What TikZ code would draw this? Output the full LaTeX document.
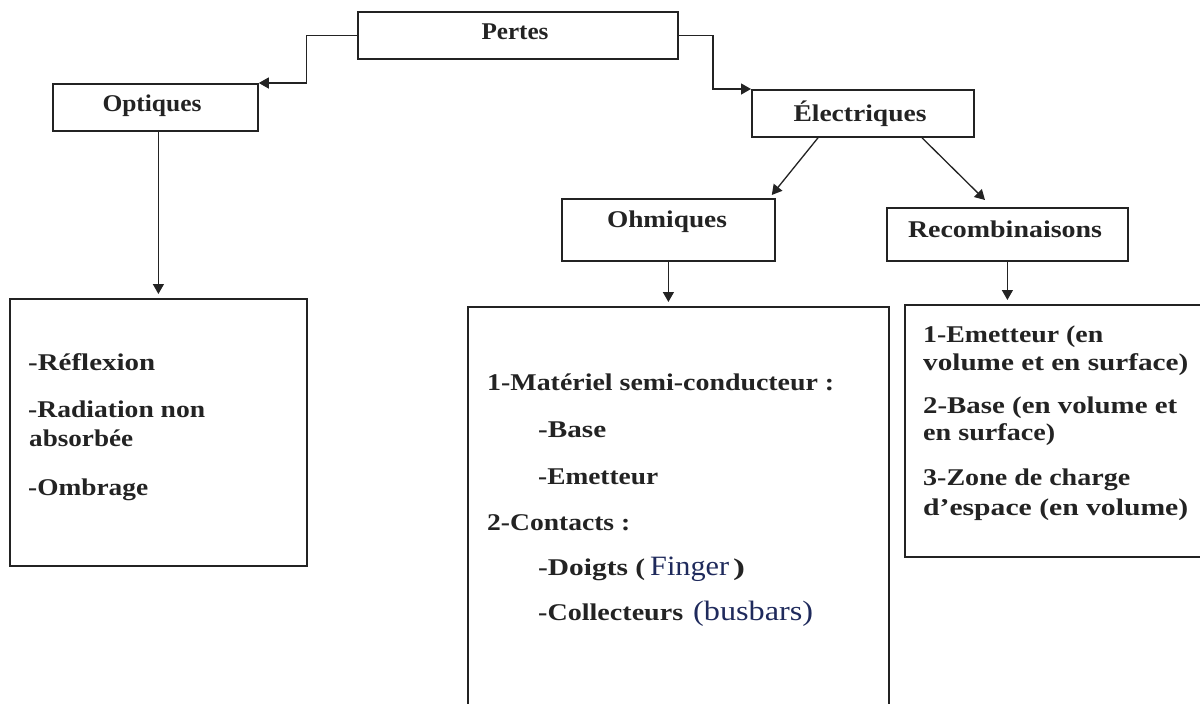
\documentclass[tikz,border=0pt]{standalone}
\usepackage{fontspec}
\setmainfont{Liberation Serif}
\usetikzlibrary{arrows.meta,calc}
\definecolor{ink}{RGB}{35,35,35}
\definecolor{navy}{RGB}{31,42,92}
\newcommand\W[2]{\resizebox{#1pt}{\height}{#2}}
\begin{document}
\begin{tikzpicture}[x=1pt,y=-1pt,
  box/.style={draw=ink, line width=1.8pt, inner sep=0pt, anchor=north west},
  ttl/.style={anchor=base, inner sep=0pt, text=ink, font=\fontsize{24}{28}\selectfont\bfseries},
  txt/.style={anchor=base west, inner sep=0pt, text=ink, font=\fontsize{24}{28}\selectfont\bfseries},
  blue/.style={anchor=base west, inner sep=0pt, text=navy, font=\fontsize{28}{30}\selectfont},
  conn/.style={draw=ink, line width=1.3pt, -{Triangle[length=10pt,width=11pt]}},
]
\useasboundingbox[fill=white] (0,0) rectangle (1200,704);

% boxes
\node[box, minimum width=320pt, minimum height=47pt] (pertes) at (357,11) {};
\node[box, minimum width=205pt, minimum height=47pt] (optiques) at (52,83) {};
\node[box, minimum width=222pt, minimum height=47pt] (elec) at (751,89) {};
\node[box, minimum width=213pt, minimum height=62pt] (ohm) at (561,198) {};
\node[box, minimum width=241pt, minimum height=53pt] (recomb) at (886,207) {};
\node[box, minimum width=297pt, minimum height=267pt] (optbody) at (9,298) {};
\node[box, minimum width=421pt, minimum height=420pt] (ohmbody) at (467,306) {};
\node[box, minimum width=320pt, minimum height=252pt] (recbody) at (904,304) {};

% titles
\node[ttl] (tpertes) at (515,39) {\W{67}{Pertes}};
\node[ttl] (topt) at (152,111) {\W{99}{Optiques}};
\node[ttl] (telec) at (860,121) {\W{133}{Électriques}};
\node[ttl] (tohm) at (667,227) {\W{120}{Ohmiques}};
\node[ttl] (trec) at (1005,237) {\W{194}{Recombinaisons}};

% optiques body
\node[txt] (o1) at (28,370) {\W{127}{-Réflexion}};
\node[txt] (o2) at (28,417) {\W{177}{-Radiation non}};
\node[txt] (o3) at (29,446) {\W{104}{absorbée}};
\node[txt] (o4) at (28,495) {\W{120}{-Ombrage}};

% ohmiques body
\node[txt] (h1) at (487,390) {\W{347}{1-Matériel semi-conducteur :}};
\node[txt] (h2) at (538,437) {\W{68}{-Base}};
\node[txt] (h3) at (538,484) {\W{120}{-Emetteur}};
\node[txt] (h4) at (487,530) {\W{143}{2-Contacts :}};
\node[txt] (h5) at (538,575) {\W{107}{-Doigts (}};
\node[blue] (h5b) at (650,575) {\W{79}{Finger}};
\node[txt] (h5c) at (733,575) {\W{12}{)}};
\node[txt] (h6) at (538,620) {\W{145}{-Collecteurs}};
\node[blue] (h6b) at (693,620) {\W{120}{(busbars)}};

% recombinaisons body
\node[txt] (r1) at (923,342) {\W{180}{1-Emetteur (en}};
\node[txt] (r2) at (923,370) {\W{265}{volume et en surface)}};
\node[txt] (r3) at (923,413) {\W{254}{2-Base (en volume et}};
\node[txt] (r4) at (923,440) {\W{132}{en surface)}};
\node[txt] (r5) at (923,485) {\W{207}{3-Zone de charge}};
\node[txt] (r6) at (923,515) {\W{265}{d’espace (en volume)}};

% connectors
\draw[conn] (pertes.west) -| ($(optiques.north east)+(48,0)$) -- (optiques.north east);
\draw[conn] (pertes.east) -| ($(elec.north west)+(-38,0)$) -- (elec.north west);
\draw[conn] ($(elec.south west)+(67,0)$) -- ($(ohm.north east)+(-4,-3)$);
\draw[conn] ($(elec.south west)+(171,0)$) -- ($(recomb.north west)+(99,-7)$);
\draw[conn, shorten >=4pt] (optbody.north |- optiques.south) -- (optbody.north);
\draw[conn, shorten >=4pt] (ohm.south) -- (ohm.south |- ohmbody.north);
\draw[conn, shorten >=4pt] (recomb.south) -- (recomb.south |- recbody.north);
\end{tikzpicture}
\end{document}
